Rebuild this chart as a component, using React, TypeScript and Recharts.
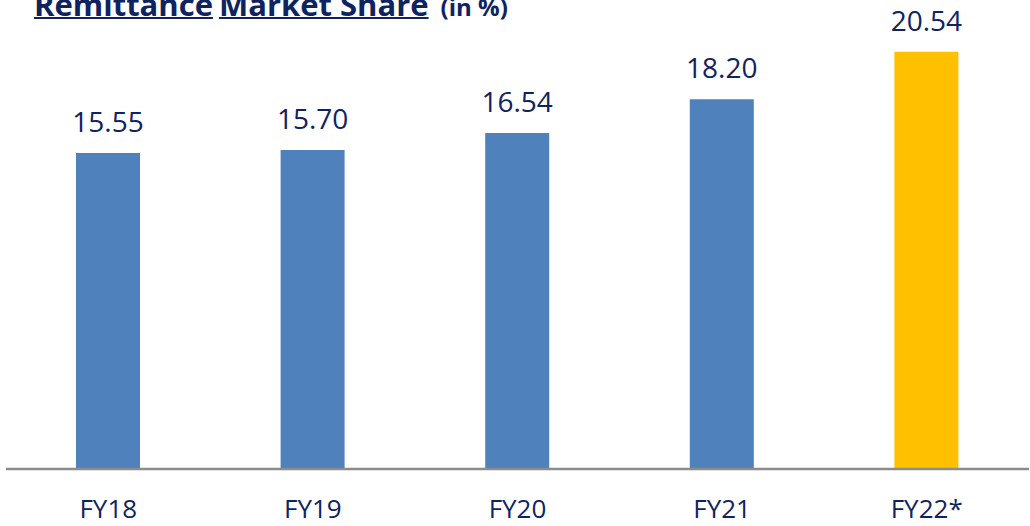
import React from 'react';
import { BarChart, Bar, XAxis, YAxis, Cell, LabelList } from 'recharts';

const categories: string[] = ['FY18', 'FY19', 'FY20', 'FY21', 'FY22*'];
const shareValues: number[] = [15.55, 15.7, 16.54, 18.2, 20.54];
const highlightCategory = 'FY22*';

const BLUE = '#4f81bd';
const GOLD = '#ffc000';
const NAVY = '#0f2360';

const data = categories.map((c, i) => ({ category: c, value: shareValues[i] }));

export default function App() {
  return (
    <div style={{ position: 'absolute', left: 0, top: 0, width: 1030, height: 526, overflow: 'hidden', background: '#fff' }}>
      <div
        style={{
          position: 'absolute',
          left: 34,
          top: -11,
          fontFamily: '"Open Sans", sans-serif',
          fontWeight: 700,
          fontSize: 31,
          lineHeight: '31px',
          color: NAVY,
          whiteSpace: 'nowrap',
        }}
      >
        <span style={{ textDecoration: 'underline', textDecorationThickness: 2 }}>Remittance</span>
        <span style={{ marginLeft: 6 }} />
        <span style={{ textDecoration: 'underline', textDecorationThickness: 2 }}>Market Share</span>
        <span style={{ marginLeft: 12, fontSize: 24 }}>(in %)</span>
      </div>
      <BarChart
        width={1030}
        height={526}
        data={data}
        margin={{ top: 22, right: 1, left: 6, bottom: 0 }}
        barCategoryGap="34%"
      >
        <YAxis hide domain={[0, 22]} />
        <XAxis
          dataKey="category"
          height={57}
          axisLine={{ stroke: '#8c8c8c', strokeWidth: 2.5 }}
          tickLine={false}
          tickSize={0}
          tickMargin={31}
          interval={0}
          tick={{ fill: NAVY, fontSize: 26, fontFamily: '"Open Sans", sans-serif' }}
        />
        <Bar dataKey="value" barSize={64} isAnimationActive={false}>
          {data.map((d) => (
            <Cell key={d.category} fill={d.category === highlightCategory ? GOLD : BLUE} />
          ))}
          <LabelList
            dataKey="value"
            position="top"
            offset={21}
            formatter={(v: any) => Number(v).toFixed(2)}
            style={{ fill: NAVY, fontSize: 28, fontFamily: '"Open Sans", sans-serif' }}
          />
        </Bar>
      </BarChart>
    </div>
  );
}
